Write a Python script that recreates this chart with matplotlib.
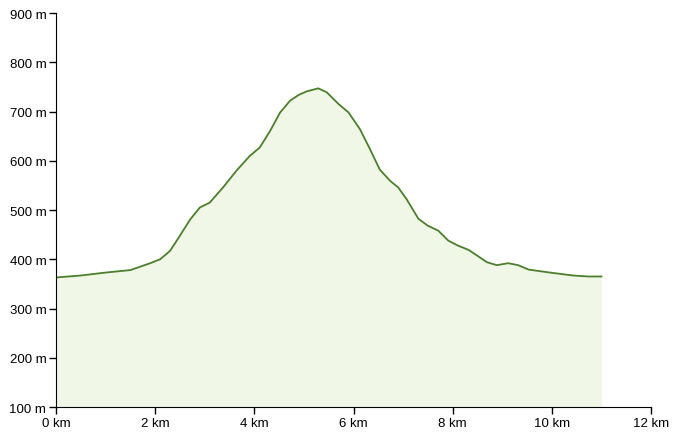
#!/usr/bin/env python3
# -*- coding: utf-8 -*-

import matplotlib
matplotlib.use('Agg')
import matplotlib.pyplot as plt
from matplotlib.ticker import FuncFormatter

# elevation profile: distance (km) / elevation (m)
dist_km = [0.0, 0.5, 1.0, 1.5, 1.7, 1.9, 2.1, 2.3, 2.5, 2.7, 2.9, 3.1, 3.37, 3.64, 3.91,
           4.11, 4.32, 4.52, 4.72, 4.9, 5.06, 5.29, 5.46, 5.7, 5.9, 6.13, 6.33,
           6.53, 6.74, 6.9, 7.07, 7.31, 7.5, 7.71, 7.91, 8.1, 8.32, 8.5, 8.69,
           8.89, 9.12, 9.32, 9.53, 9.96, 10.43, 10.74, 11.0]
elev_m = [363, 367, 373, 378, 385, 392, 400, 417, 448, 480, 505, 515, 546, 580, 610,
          627, 661, 698, 722, 734, 741, 747, 739, 715, 698, 664, 624,
          582, 559, 546, 522, 482, 468, 458, 438, 428, 419, 407, 394,
          388, 392, 388, 379, 373, 367, 365, 365]

plt.rcParams['font.family'] = ['Liberation Sans', 'DejaVu Sans']

fig = plt.figure(figsize=(6.79, 4.39), dpi=100)
ax = fig.add_axes([0.0825, 0.0706, 0.8763, 0.8975])

ax.fill_between(dist_km, elev_m, 100, color='#f0f7e6', lw=0)
ax.plot(dist_km, elev_m, color='#4b7f2b', lw=1.3)

ax.set_xlim(0, 12)
ax.set_ylim(100, 900)
ax.set_xticks(range(0, 13, 2))
ax.set_yticks(range(100, 901, 100))
ax.xaxis.set_major_formatter(FuncFormatter(lambda v, p: f"{int(v)} km"))
ax.yaxis.set_major_formatter(FuncFormatter(lambda v, p: f"{int(v)} m"))
ax.tick_params(labelsize=9.5, length=5, width=1, pad=2)
ax.spines['top'].set_visible(False)
ax.spines['right'].set_visible(False)

plt.savefig('out.png', dpi=100)
